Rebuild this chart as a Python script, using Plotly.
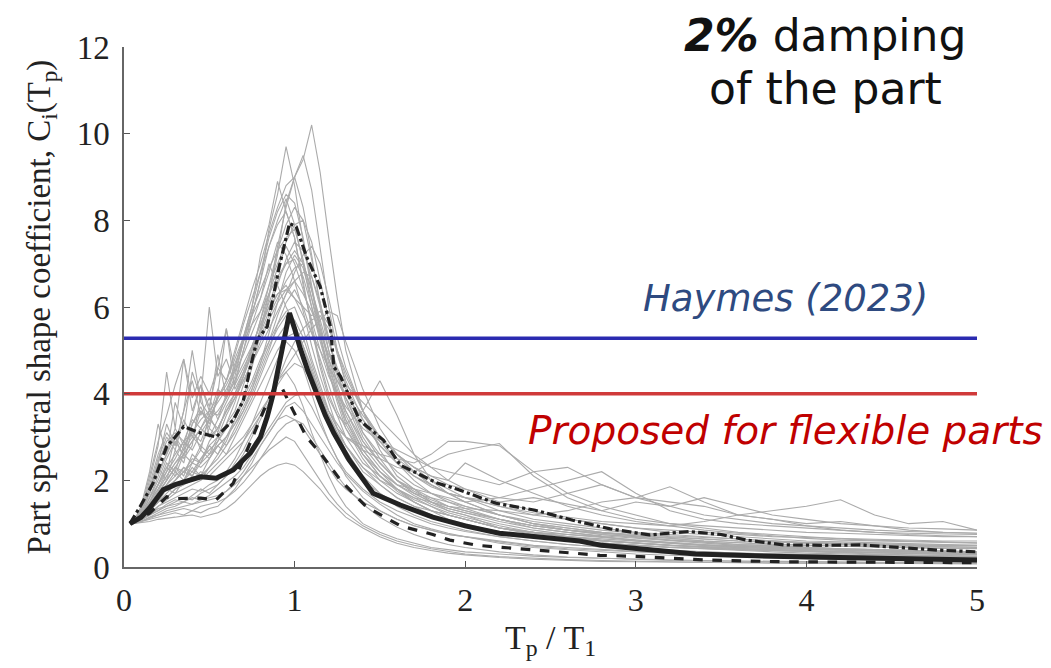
import plotly.graph_objects as go

# ---------------- data ----------------
x_grid = [0.05, 0.1, 0.15, 0.2, 0.25, 0.3, 0.35, 0.4, 0.45, 0.5, 0.55, 0.6, 0.65, 0.7, 0.75,
          0.8, 0.85, 0.9, 0.95, 1.0, 1.05, 1.1, 1.15, 1.2, 1.25, 1.3, 1.4, 1.5, 1.6, 1.7,
          1.8, 1.9, 2.0, 2.2, 2.4, 2.6, 2.8, 3.0, 3.2, 3.4, 3.6, 3.8, 4.0, 4.2, 4.4, 4.6, 4.8, 5.0]

gray_records = [
    [1.0,1.1,1.4,1.7,2.0,2.3,2.2,2.5,2.4,2.8,3.0,3.3,3.6,4.2,4.8,5.5,6.3,7.2,8.4,9.0,9.4,10.2,9.1,7.6,6.2,5.0,3.6,2.7,2.1,1.8,1.5,1.3,1.2,0.9,0.8,0.7,0.6,0.55,0.5,0.45,0.4,0.38,0.35,0.33,0.3,0.28,0.27,0.25],
    [1.0,1.2,1.6,1.9,2.4,2.2,2.8,3.1,2.9,3.4,3.6,3.9,4.3,5.0,5.8,6.6,7.8,8.6,9.7,8.8,7.5,6.4,5.4,4.5,3.8,3.2,2.5,2.0,1.7,1.5,1.3,1.1,1.0,0.8,0.7,0.6,0.55,0.5,0.45,0.42,0.38,0.35,0.32,0.3,0.28,0.26,0.25,0.24],
    [1.0,1.1,1.3,1.5,1.6,1.8,1.9,2.1,2.0,2.3,2.6,2.9,3.4,3.9,4.6,5.4,6.2,7.4,8.3,9.0,9.5,8.7,7.3,6.0,5.0,4.2,3.1,2.5,2.0,1.7,1.6,1.4,1.3,1.1,0.95,0.85,0.75,0.7,0.62,0.58,0.52,0.5,0.46,0.42,0.4,0.38,0.36,0.35],
    [1.0,1.3,1.8,2.5,3.0,2.7,3.4,3.0,3.6,3.3,3.9,4.2,4.6,5.3,6.0,7.2,7.9,8.9,8.2,7.6,6.5,5.6,4.7,4.0,3.5,3.0,2.4,2.1,1.8,1.6,1.4,1.2,1.1,0.9,0.8,0.7,0.65,0.6,0.55,0.5,0.47,0.45,0.42,0.4,0.38,0.36,0.34,0.33],
    [1.0,1.4,2.2,3.3,2.6,3.8,3.2,4.5,3.9,6.0,4.4,4.8,4.2,5.0,5.6,6.2,6.8,7.5,7.2,6.6,5.9,5.1,4.4,3.8,3.2,2.8,2.2,1.9,1.6,1.4,1.3,1.2,1.1,0.9,0.8,0.75,0.7,0.6,0.55,0.5,0.48,0.45,0.42,0.4,0.38,0.35,0.33,0.32],
    [1.0,1.3,2.0,2.8,4.5,3.2,4.8,3.6,4.2,3.7,4.6,5.5,4.5,5.2,5.8,6.6,7.4,8.0,8.5,7.9,7.0,6.0,5.3,4.6,4.0,3.6,2.9,2.4,2.0,1.8,1.6,1.5,1.4,1.2,1.0,0.9,0.8,0.75,0.7,0.65,0.6,0.58,0.55,0.52,0.5,0.48,0.46,0.45],
    [1.0,1.2,1.5,1.8,2.1,2.4,2.6,2.9,3.2,3.0,3.4,3.8,4.2,4.6,5.0,5.4,5.9,6.3,6.5,6.2,6.0,5.8,5.9,5.6,5.0,4.4,3.6,3.0,2.6,2.3,2.0,1.8,1.6,1.3,1.1,1.0,0.9,0.8,0.75,0.7,0.65,0.6,0.55,0.52,0.5,0.48,0.47,0.46],
    [1.0,1.05,1.1,1.15,1.2,1.25,1.2,1.3,1.25,1.35,1.4,1.6,1.8,2.1,2.4,2.8,3.1,3.4,3.5,3.4,3.2,2.9,2.6,2.3,2.0,1.8,1.5,1.3,1.1,0.95,0.85,0.75,0.7,0.55,0.45,0.4,0.35,0.3,0.27,0.25,0.22,0.2,0.18,0.17,0.16,0.15,0.14,0.13],
    [1.0,1.1,1.2,1.35,1.4,1.5,1.6,1.55,1.7,1.8,1.9,2.1,2.4,2.7,3.1,3.5,3.9,4.3,4.5,4.2,3.7,3.1,2.6,2.1,1.7,1.4,1.0,0.8,0.65,0.55,0.45,0.4,0.35,0.3,0.25,0.22,0.2,0.18,0.16,0.15,0.14,0.13,0.12,0.12,0.11,0.11,0.1,0.1],
    [1.0,1.2,1.4,1.7,1.9,2.1,2.3,2.2,2.5,2.7,2.9,3.2,3.5,3.9,4.3,4.8,5.2,5.6,5.9,6.0,5.5,4.8,4.2,3.6,3.2,3.0,2.8,2.6,2.5,2.4,2.6,2.9,2.9,2.8,2.2,1.7,1.4,1.2,1.0,0.9,0.8,0.75,0.7,0.65,0.62,0.6,0.58,0.56],
    [1.0,1.15,1.4,1.6,1.8,2.0,2.2,2.1,2.4,2.6,2.8,3.0,3.3,3.6,4.0,4.5,5.0,5.6,6.1,6.4,6.0,5.4,4.8,4.2,3.6,3.2,2.6,2.2,1.9,1.8,1.7,1.6,1.5,1.6,1.8,2.0,2.2,1.7,1.3,1.1,1.0,0.95,0.9,0.85,0.8,0.78,0.76,0.75],
    [1.0,1.1,1.3,1.5,1.7,1.9,2.0,2.2,2.1,2.3,2.5,2.8,3.1,3.5,3.9,4.4,4.9,5.3,5.6,5.7,5.3,4.7,4.1,3.6,3.2,2.8,2.3,2.0,1.8,1.6,1.5,1.4,1.35,1.3,1.2,1.3,1.5,1.6,1.85,1.5,1.2,1.3,1.4,1.55,1.2,1.0,1.05,0.85],
    [1.0,1.1,1.25,1.4,1.5,1.6,1.7,1.8,1.75,1.9,2.0,2.2,2.5,2.9,3.3,3.8,4.3,4.8,5.2,5.0,4.6,4.0,3.4,2.9,2.5,2.1,1.6,1.3,1.1,0.95,0.85,0.75,0.7,0.6,0.5,0.45,0.4,0.36,0.33,0.3,0.28,0.26,0.25,0.24,0.23,0.22,0.21,0.2],
    [1.0,1.3,1.9,2.6,3.1,2.8,3.6,5.0,3.8,3.5,4.1,3.9,4.4,5.2,5.9,6.4,6.9,7.3,7.6,7.8,7.1,6.2,5.3,4.5,3.9,3.3,2.6,2.1,1.8,1.5,1.3,1.2,1.1,0.9,0.75,0.65,0.6,0.55,0.5,0.47,0.45,0.42,0.4,0.38,0.36,0.35,0.34,0.33],
    [1.0,1.2,1.6,2.0,2.5,2.9,2.6,3.3,3.7,3.2,4.0,5.5,4.1,4.5,4.9,5.3,5.8,6.2,6.6,6.9,7.0,6.4,5.6,4.8,4.1,3.5,2.7,2.2,1.8,1.55,1.4,1.25,1.15,0.95,0.8,0.7,0.62,0.56,0.5,0.46,0.42,0.4,0.37,0.35,0.33,0.31,0.3,0.29],
    [1.0,1.02,1.05,1.1,1.12,1.15,1.18,1.2,1.15,1.2,1.25,1.35,1.5,1.7,1.9,2.1,2.25,2.35,2.4,2.35,2.2,2.0,1.8,1.55,1.35,1.15,0.9,0.7,0.55,0.45,0.38,0.32,0.28,0.22,0.18,0.15,0.13,0.12,0.11,0.1,0.1,0.09,0.09,0.08,0.08,0.08,0.07,0.07],
    [1.0,1.1,1.3,1.5,1.6,1.8,1.9,2.0,2.2,2.1,2.3,2.5,2.7,2.9,3.2,3.5,3.9,4.3,4.8,5.2,5.5,5.7,5.8,5.5,5.0,4.5,3.6,2.9,2.4,2.0,1.7,1.5,1.35,1.1,0.9,0.8,0.7,0.62,0.56,0.5,0.45,0.42,0.4,0.38,0.36,0.34,0.33,0.32],
    [1.0,1.25,1.7,2.2,2.6,3.0,2.7,3.3,3.6,3.4,3.9,4.3,4.9,5.6,6.2,6.8,7.4,7.9,8.2,7.6,6.6,5.5,4.6,3.9,3.5,3.3,3.6,4.3,3.5,2.6,2.0,1.7,1.5,1.2,1.0,0.85,0.75,0.68,0.62,0.57,0.52,0.48,0.45,0.42,0.4,0.38,0.36,0.35],
    [1.0,1.1,1.2,1.4,1.55,1.7,1.8,1.9,2.0,2.2,2.4,2.6,2.8,3.0,3.3,3.6,3.9,4.3,4.6,4.9,5.2,5.5,5.7,5.9,5.8,5.2,4.1,3.2,2.6,2.2,1.9,1.7,1.5,1.2,1.0,0.9,0.8,0.72,0.66,0.6,0.56,0.52,0.5,0.48,0.46,0.45,0.44,0.43],
    [1.0,1.05,1.15,1.25,1.35,1.4,1.5,1.45,1.55,1.6,1.65,1.75,1.9,2.1,2.3,2.5,2.7,2.85,3.0,2.9,2.6,2.3,2.0,1.7,1.45,1.25,0.95,0.75,0.6,0.5,0.42,0.36,0.3,0.24,0.2,0.17,0.15,0.13,0.12,0.11,0.1,0.1,0.09,0.09,0.08,0.08,0.08,0.08],
    [1.0,1.2,1.5,1.9,2.3,2.6,2.9,3.1,3.4,3.6,3.9,4.3,4.8,5.3,5.8,6.2,7.0,6.5,6.0,5.6,5.1,4.5,3.9,3.4,2.9,2.5,2.0,1.7,1.45,1.3,1.15,1.05,0.95,0.8,0.7,0.62,0.55,0.5,0.45,0.42,0.4,0.38,0.36,0.34,0.32,0.3,0.29,0.28],
    [1.0,1.15,1.35,1.6,1.8,2.0,2.2,2.4,2.3,2.5,2.8,3.0,3.3,3.7,4.1,4.6,5.1,5.5,5.8,5.6,5.1,4.5,4.0,3.6,3.3,3.0,2.7,2.5,2.3,2.2,2.4,2.6,2.7,2.85,2.1,1.6,1.3,1.1,1.0,0.95,0.9,0.85,0.8,0.78,0.75,0.72,0.7,0.7],
    [1.0,1.35,2.1,2.9,3.5,4.2,4.8,3.9,4.4,4.0,4.6,4.3,5.0,5.7,6.4,7.0,7.7,8.3,8.8,9.0,8.3,7.2,6.0,5.0,4.2,3.6,2.8,2.3,1.9,1.65,1.45,1.3,1.2,1.0,0.85,0.75,0.68,0.62,0.57,0.52,0.48,0.45,0.42,0.4,0.38,0.36,0.35,0.34],
    [1.0,1.3,1.8,2.4,2.9,3.1,2.9,3.4,3.2,3.6,3.5,3.9,4.3,4.7,5.1,5.6,6.1,6.6,7.0,7.3,7.0,6.4,5.7,5.0,4.4,3.9,3.1,2.6,2.2,1.9,1.7,1.55,1.4,1.2,1.05,0.95,0.85,0.78,0.72,0.68,0.64,0.6,0.57,0.55,0.53,0.51,0.5,0.49],
    [1.0,1.1,1.2,1.3,1.4,1.45,1.5,1.6,1.55,1.65,1.8,1.95,2.1,2.3,2.6,2.9,3.2,3.5,3.8,3.95,4.0,3.7,3.3,2.9,2.5,2.2,1.8,1.5,1.3,1.15,1.0,0.9,0.82,0.7,0.6,0.52,0.46,0.42,0.38,0.35,0.32,0.3,0.28,0.26,0.25,0.24,0.23,0.22],
    [1.0,1.2,1.5,1.9,2.2,3.0,2.5,2.8,4.0,3.0,3.2,3.6,3.9,4.3,4.7,5.1,5.5,5.9,6.3,6.6,6.8,6.7,6.1,5.3,4.5,3.8,2.9,2.4,2.0,1.75,1.55,1.4,1.3,1.1,0.95,0.85,0.78,0.72,0.66,0.6,0.56,0.53,0.5,0.48,0.46,0.44,0.43,0.42],
    [1.0,1.15,1.5,1.9,2.3,2.1,2.6,2.4,2.8,2.6,3.0,2.8,3.2,3.6,4.1,4.7,5.4,6.1,6.8,7.2,6.9,6.2,5.5,4.8,4.3,3.9,3.3,2.8,2.4,2.1,1.9,1.7,1.6,1.4,1.2,1.1,1.0,0.9,0.85,0.8,0.75,0.7,0.68,0.66,0.64,0.62,0.6,0.6],
    [1.0,1.25,1.7,2.3,2.0,2.7,2.4,3.2,2.7,3.5,3.1,3.7,4.0,4.4,4.9,5.5,6.0,6.5,7.1,7.5,7.3,6.7,6.0,5.2,4.6,4.2,3.8,3.4,3.0,2.6,2.3,2.0,1.8,1.5,1.3,1.1,1.0,0.9,0.8,0.75,0.7,0.65,0.6,0.58,0.56,0.54,0.52,0.5],
    [1.0,1.1,1.3,1.6,1.9,2.2,2.0,2.4,2.7,2.5,2.9,3.3,3.8,4.4,5.0,5.7,6.5,7.3,7.9,8.3,8.0,7.1,6.1,5.2,4.5,3.9,3.0,2.4,2.0,1.7,1.5,1.35,1.25,1.05,0.9,0.8,0.72,0.66,0.6,0.55,0.5,0.47,0.44,0.42,0.4,0.38,0.36,0.35],
    [1.0,1.2,1.5,1.8,2.2,2.5,2.9,2.7,3.1,3.4,3.2,3.6,3.9,4.3,4.7,5.2,5.7,6.1,6.4,6.6,6.3,5.9,5.4,4.9,4.5,4.1,3.5,3.0,2.6,2.3,2.1,1.9,1.8,1.6,1.5,1.7,1.9,1.6,1.5,1.4,1.2,1.1,1.0,1.05,0.95,0.85,0.8,0.78],
    [1.0,1.08,1.2,1.3,1.45,1.55,1.5,1.65,1.8,1.7,1.9,2.1,2.3,2.6,3.0,3.4,3.8,4.2,4.5,4.7,4.6,4.3,3.9,3.5,3.1,2.8,2.3,1.9,1.6,1.4,1.2,1.05,0.95,0.8,0.68,0.6,0.55,0.5,0.46,0.43,0.4,0.38,0.36,0.34,0.33,0.32,0.31,0.3],
    [1.0,1.2,1.6,2.1,2.6,3.2,2.8,3.5,4.2,3.6,4.9,3.9,4.6,5.3,6.0,6.8,7.6,8.2,8.6,8.4,7.6,6.5,5.5,4.7,4.0,3.4,2.6,2.1,1.75,1.5,1.3,1.2,1.1,0.9,0.78,0.68,0.6,0.55,0.5,0.46,0.43,0.4,0.38,0.36,0.34,0.32,0.31,0.3],
    [1.0,1.1,1.35,1.6,1.85,2.0,2.3,2.1,2.5,2.8,2.6,3.0,3.4,3.8,4.2,4.7,5.2,5.8,6.3,6.8,7.2,7.4,7.0,6.2,5.3,4.6,3.6,3.0,2.6,2.3,2.1,2.0,2.4,2.0,1.7,1.4,1.2,1.05,0.95,0.85,0.78,0.72,0.66,0.62,0.6,0.58,0.56,0.55],
    [1.0,1.05,1.12,1.2,1.3,1.35,1.4,1.45,1.5,1.55,1.6,1.75,1.95,2.2,2.5,2.8,3.1,3.4,3.7,3.8,3.6,3.3,3.0,2.7,2.4,2.15,1.75,1.45,1.2,1.0,0.88,0.78,0.7,0.58,0.48,0.42,0.38,0.34,0.31,0.29,0.27,0.25,0.24,0.23,0.22,0.21,0.2,0.2],
    [1.0,1.15,1.45,1.75,2.1,2.4,2.7,3.0,2.8,3.2,3.0,3.5,3.9,4.4,5.0,5.7,6.3,6.9,7.4,7.0,6.4,5.7,5.0,4.4,4.0,3.7,3.2,2.9,2.7,2.5,2.3,2.2,2.1,1.9,2.2,2.3,1.9,1.6,1.4,1.6,1.4,1.2,1.1,1.0,0.95,0.9,0.88,0.85],
    [1.0,1.2,1.45,1.7,2.0,2.3,2.1,2.6,2.4,2.9,3.2,3.6,4.0,4.5,5.1,5.6,6.0,6.3,6.4,6.2,5.8,5.4,5.0,4.6,4.3,4.0,3.4,2.9,2.5,2.2,1.9,1.7,1.6,1.4,1.25,1.15,1.05,1.0,0.95,1.05,1.2,1.1,0.95,0.85,0.8,0.75,0.72,0.7],
    [1.0,1.3,1.7,2.4,3.3,2.8,3.6,4.3,3.5,3.9,3.4,4.0,4.7,5.2,5.6,5.9,6.3,6.7,7.0,7.1,6.7,6.0,5.2,4.5,3.9,3.4,2.7,2.2,1.9,1.7,1.5,1.35,1.25,1.1,0.95,0.85,0.78,0.72,0.68,0.64,0.6,0.58,0.56,0.54,0.52,0.5,0.5,0.5],
    [1.0,1.05,1.15,1.2,1.25,1.3,1.35,1.3,1.4,1.45,1.5,1.6,1.75,1.95,2.2,2.5,2.8,3.1,3.3,3.4,3.3,3.0,2.7,2.4,2.1,1.85,1.45,1.15,0.92,0.75,0.62,0.52,0.45,0.35,0.28,0.23,0.2,0.17,0.15,0.14,0.13,0.12,0.11,0.1,0.1,0.1,0.09,0.09],
    [1.0,1.15,1.4,1.7,2.0,2.3,2.6,2.9,3.2,3.5,3.8,4.1,4.5,4.9,5.4,5.9,6.5,7.0,7.5,7.9,8.0,7.5,6.6,5.7,4.9,4.3,3.4,2.8,2.4,2.1,1.85,1.7,1.6,1.5,1.6,1.45,1.3,1.5,1.4,1.2,1.1,1.0,0.95,0.9,0.85,0.82,0.8,0.78],
    [1.0,1.1,1.3,1.5,1.8,1.7,2.0,2.3,2.1,2.5,2.8,2.6,3.0,3.4,3.8,4.2,4.6,5.0,5.3,5.4,5.1,4.6,4.0,3.5,3.1,2.7,2.1,1.7,1.4,1.2,1.05,0.95,0.85,0.7,0.6,0.52,0.46,0.42,0.38,0.35,0.32,0.3,0.28,0.27,0.26,0.25,0.24,0.23],
]

median_x = [0.035,0.1,0.15,0.23,0.3,0.35,0.45,0.54,0.64,0.74,0.8,0.84,0.875,0.9,0.94,0.97,1.0,1.03,1.08,1.13,1.18,1.23,1.32,1.46,1.62,1.81,2.0,2.2,2.4,2.67,2.8,2.98,3.35,3.87,4.32,5.0]
median_y = [1.0,1.15,1.36,1.78,1.9,1.97,2.08,2.05,2.24,2.63,3.0,3.47,4.0,4.5,5.3,5.86,5.5,5.08,4.5,4.0,3.5,3.09,2.47,1.7,1.43,1.15,0.95,0.78,0.7,0.6,0.5,0.43,0.3,0.24,0.2,0.16]

upper_x = [0.035,0.094,0.17,0.25,0.3,0.35,0.45,0.54,0.64,0.7,0.74,0.78,0.84,0.91,0.97,1.01,1.07,1.15,1.21,1.23,1.27,1.31,1.38,1.52,1.62,1.84,1.95,2.18,2.41,2.63,2.85,3.08,3.31,3.5,3.65,3.87,4.1,4.32,4.55,4.77,5.0]
upper_y = [1.0,1.39,1.93,2.78,3.0,3.24,3.09,3.0,3.39,3.85,4.6,5.24,5.55,6.93,7.93,7.85,7.16,6.47,5.55,4.62,4.39,4.01,3.39,2.93,2.35,1.93,1.8,1.47,1.31,1.08,0.88,0.74,0.82,0.75,0.62,0.51,0.5,0.51,0.45,0.39,0.35]

lower_x = [0.035,0.15,0.25,0.31,0.45,0.54,0.64,0.74,0.82,0.875,0.93,0.99,1.07,1.15,1.27,1.42,1.62,1.81,1.91,2.07,2.2,2.52,2.79,2.97,3.42,3.87,5.0]
lower_y = [1.0,1.24,1.62,1.58,1.59,1.55,1.93,2.86,3.62,4.08,4.1,3.62,3.0,2.63,2.0,1.39,0.95,0.75,0.62,0.5,0.46,0.36,0.27,0.25,0.16,0.12,0.1]

haymes_level = 5.28
proposed_level = 4.0
x_ticks = [0, 1, 2, 3, 4, 5]
y_ticks = [0, 2, 4, 6, 8, 10, 12]

# ---------------- figure ----------------
fig = go.Figure()

for rec in gray_records:
    fig.add_trace(go.Scatter(x=x_grid, y=rec, mode="lines",
                             line=dict(color="#ABABAB", width=1.1), hoverinfo="skip",
                             showlegend=False))

fig.add_trace(go.Scatter(x=upper_x, y=upper_y, mode="lines",
                         line=dict(color="#222222", width=3.2, dash="dashdot"), showlegend=False))
fig.add_trace(go.Scatter(x=lower_x, y=lower_y, mode="lines",
                         line=dict(color="#222222", width=3.2, dash="dash"), showlegend=False))
fig.add_trace(go.Scatter(x=median_x, y=median_y, mode="lines",
                         line=dict(color="#222222", width=5), showlegend=False))

fig.add_trace(go.Scatter(x=[0, 5], y=[haymes_level, haymes_level], mode="lines",
                         line=dict(color="#2A2AB0", width=3.5), showlegend=False))
fig.add_trace(go.Scatter(x=[0, 5], y=[proposed_level, proposed_level], mode="lines",
                         line=dict(color="#D03A3A", width=3.5), showlegend=False))

serif = "Liberation Serif, Times New Roman, serif"
sans = "DejaVu Sans, Noto Sans, sans-serif"

fig.update_layout(
    width=1051, height=668,
    margin=dict(l=124, r=74, t=47, b=101),
    paper_bgcolor="white", plot_bgcolor="white",
    xaxis=dict(range=[0, 5], tickvals=x_ticks, ticks="inside", ticklen=6, tickcolor="#555",
               showline=True, linecolor="#666", linewidth=1.5, showgrid=False, zeroline=False,
               tickfont=dict(family=serif, size=32, color="#222"), ticklabelstandoff=4,
               title=dict(text="T<sub>p</sub> / T<sub>1</sub>", font=dict(family=serif, size=34, color="#222"),
                          standoff=8)),
    yaxis=dict(range=[0, 12], tickvals=y_ticks, ticks="inside", ticklen=6, tickcolor="#555",
               showline=True, linecolor="#666", linewidth=1.5, showgrid=False, zeroline=False,
               tickfont=dict(family=serif, size=33, color="#222"), ticklabelstandoff=6,
               title=dict(text="Part spectral shape coefficient, C<sub>i</sub>(T<sub>p</sub>)",
                          font=dict(family=serif, size=33, color="#222"), standoff=16)),
)

fig.add_annotation(x=(825 - 124) / 853, y=(567 - 35) / 520, xref="paper", yref="paper",
                   text="<b><i>2%</i></b> damping", showarrow=False,
                   font=dict(family=sans, size=44, color="#111"), xanchor="center", yanchor="middle")
fig.add_annotation(x=(825 - 124) / 853, y=(567 - 88) / 520, xref="paper", yref="paper",
                   text="of the part", showarrow=False,
                   font=dict(family=sans, size=44, color="#111"), xanchor="center", yanchor="middle")
fig.add_annotation(x=(785 - 124) / 853, y=(567 - 298) / 520, xref="paper", yref="paper",
                   text="<i>Haymes (2023)</i>", showarrow=False,
                   font=dict(family=sans, size=37, color="#2E4A80"), xanchor="center", yanchor="middle")
fig.add_annotation(x=(1045 - 124) / 853, y=(567 - 430) / 520, xref="paper", yref="paper",
                   text="<i>Proposed for flexible parts</i>", showarrow=False,
                   font=dict(family=sans, size=39, color="#C00000"), xanchor="right", yanchor="middle")

fig.write_html("out.html")
